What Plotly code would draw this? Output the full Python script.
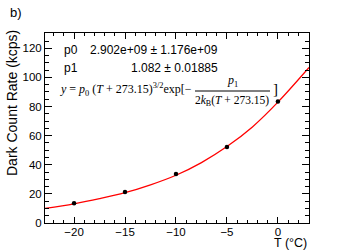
import plotly.graph_objects as go

# ---- data ----
temperature = [-20, -15, -10, -5, 0]
dark_rate = [13.5, 21.3, 33.6, 52.2, 83.5]

fit_temperature = [-22.85, -20, -17.5, -15, -12.5, -10, -7.5, -5, -2.5, 0, 3.05]
fit_rate = [10.1, 13.2, 16.7, 20.8, 26.2, 32.8, 41.5, 52.5, 66.0, 83.0, 106.8]

x_range = [-22.85, 3.05]
y_range = [0, 130.5]

p0_text = "2.902e+09 ± 1.176e+09"
p1_text = "1.082 ± 0.01885"

W, H = 343, 252
ML, MR, MT, MB = 45, 34, 33, 29
PW, PH = W - ML - MR, H - MT - MB


def px(x):
    return (x - ML) / PW


def py(y):
    return (H - MB - y) / PH


SANS = "Liberation Sans, Arial, Helvetica, sans-serif"
SERIF = "Liberation Serif, Times New Roman, serif"

fig = go.Figure()
fig.add_trace(go.Scatter(
    x=fit_temperature, y=fit_rate, mode="lines",
    line=dict(color="#ff0000", width=1.3, shape="spline"),
    hoverinfo="skip"))
fig.add_trace(go.Scatter(
    x=temperature, y=dark_rate, mode="markers",
    marker=dict(color="black", size=4.5)))

axis_common = dict(
    showline=True, linecolor="black", linewidth=1, mirror="allticks",
    ticks="inside", tickcolor="black", showgrid=False, zeroline=False,
    tickfont=dict(family=SANS, size=11.5, color="black"),
)

fig.update_xaxes(range=x_range, tick0=0, dtick=5, ticklen=6, ticklabelstandoff=-2,
                 minor=dict(ticks="inside", dtick=1, ticklen=3, tickcolor="black"),
                 **axis_common)
fig.update_yaxes(range=y_range, tick0=0, dtick=20, ticklen=7,
                 minor=dict(ticks="inside", dtick=5, ticklen=4, tickcolor="black"),
                 **axis_common)

ann = []
ann.append(dict(text="b)", x=px(8), y=py(12), xanchor="left", yanchor="middle",
                font=dict(family=SANS, size=13, color="black")))
ann.append(dict(text="Dark Count Rate (kcps)", x=px(12), y=py(28), xanchor="center",
                yanchor="top", textangle=-90,
                font=dict(family=SANS, size=14, color="black")))
ann.append(dict(text="T (°C)", x=px(309), y=py(252), xanchor="right", yanchor="bottom",
                font=dict(family=SANS, size=12.5, color="black")))
# fit statistics
ann.append(dict(text="p0", x=px(62), y=py(50), xanchor="left", yanchor="middle",
                font=dict(family=SANS, size=12, color="black")))
ann.append(dict(text=p0_text, x=px(220), y=py(50), xanchor="right", yanchor="middle",
                font=dict(family=SANS, size=12, color="black")))
ann.append(dict(text="p1", x=px(62), y=py(68), xanchor="left", yanchor="middle",
                font=dict(family=SANS, size=12, color="black")))
ann.append(dict(text=p1_text, x=px(220), y=py(68), xanchor="right", yanchor="middle",
                font=dict(family=SANS, size=12, color="black")))
# fit formula
ann.append(dict(text="<i>y</i> = <i>p</i><sub>0</sub> (<i>T</i> + 273.15)<sup>3/2</sup>exp[−",
                x=px(58), y=py(89), xanchor="left", yanchor="middle",
                font=dict(family=SERIF, size=12, color="black")))
ann.append(dict(text="<i>p</i><sub>1</sub>", x=px(232), y=py(81), xanchor="center",
                yanchor="middle", font=dict(family=SERIF, size=12, color="black")))
ann.append(dict(text="2<i>k</i><sub>B</sub>(<i>T</i> + 273.15)", x=px(232), y=py(101),
                xanchor="center", yanchor="middle",
                font=dict(family=SERIF, size=11.5, color="black")))
ann.append(dict(text="]", x=px(271), y=py(89), xanchor="left", yanchor="middle",
                font=dict(family=SERIF, size=15, color="black")))
for a in ann:
    a.update(xref="paper", yref="paper", showarrow=False)

fig.update_layout(
    width=W, height=H, margin=dict(l=ML, r=MR, t=MT, b=MB),
    paper_bgcolor="white", plot_bgcolor="white", showlegend=False,
    annotations=ann,
    shapes=[dict(type="line", xref="paper", yref="paper",
                 x0=px(195), x1=px(270), y0=py(91), y1=py(91),
                 line=dict(color="black", width=1))],
)

fig.write_html("out.html", config={"displayModeBar": False},
               post_script="document.body.style.margin='0';document.body.style.padding='0';")
